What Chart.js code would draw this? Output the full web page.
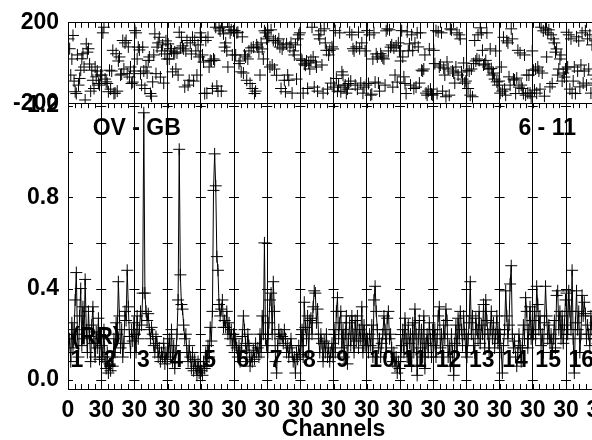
<!DOCTYPE html>
<html>
<head>
<meta charset="utf-8">
<script src="https://cdn.jsdelivr.net/npm/chart.js@4.4.0/dist/chart.umd.min.js"></script>
<style>
  html, body { margin: 0; padding: 0; overflow: hidden; background: #fff; }
  #wrap { width: 620px; height: 440px; }
</style>
</head>
<body>
<div id="wrap"><canvas id="rrChart" width="620" height="440"></canvas></div>
<script>
// 16 baseline groups of 30 channels each
const chanPerGroup = 30;
const groupLabels = ['1', '2', '3', '4', '5', '6', '7', '8', '9', '10', '11', '12', '13', '14', '15', '16'];

// amplitude ratio (RR), one row per group
const ratioRR = [
    0.12,0.18,0.08,0.25,0.14,0.22,0.35,0.47,0.20,0.10,0.28,0.40,0.15,0.32,0.18,0.44,0.22,0.12,0.30,0.19,0.08,0.24,0.32,0.16,0.10,0.21,0.14,0.27,0.09,0.18,
    0.15,0.10,0.22,0.08,0.05,0.12,0.03,0.07,0.04,0.10,0.06,0.18,0.12,0.25,0.20,0.43,0.28,0.14,0.22,0.10,0.16,0.30,0.26,0.48,0.32,0.19,0.12,0.22,0.17,0.25,
    0.20,0.12,0.28,0.18,0.22,0.30,0.24,0.38,1.17,0.38,0.30,0.26,0.29,0.22,0.18,0.23,0.20,0.15,0.12,0.19,0.16,0.10,0.14,0.08,0.12,0.10,0.16,0.07,0.12,0.09,
    0.12,0.18,0.10,0.22,0.08,0.15,0.05,0.12,0.20,0.35,1.01,0.46,0.33,0.31,0.24,0.18,0.20,0.12,0.08,0.15,0.10,0.05,0.12,0.04,0.09,0.06,0.02,0.08,0.03,0.06,
    0.04,0.02,0.08,0.05,0.12,0.06,0.15,0.10,0.23,0.17,0.30,0.83,0.99,0.85,0.54,0.48,0.33,0.28,0.31,0.35,0.23,0.26,0.23,0.30,0.20,0.25,0.18,0.22,0.15,0.20,
    0.12,0.18,0.14,0.10,0.15,0.08,0.13,0.19,0.28,0.22,0.16,0.12,0.20,0.15,0.06,0.10,0.08,0.13,0.09,0.16,0.12,0.14,0.10,0.20,0.12,0.28,0.20,0.60,0.18,0.15,
    0.12,0.25,0.35,0.38,0.20,0.43,0.30,0.08,0.03,0.15,0.22,0.18,0.20,0.19,0.16,0.22,0.18,0.12,0.15,0.10,0.14,0.18,0.12,0.08,0.10,0.03,0.12,0.09,0.15,0.11,
    0.15,0.22,0.10,0.34,0.23,0.18,0.28,0.12,0.26,0.27,0.20,0.32,0.39,0.38,0.25,0.31,0.18,0.12,0.20,0.16,0.08,0.17,0.12,0.20,0.10,0.14,0.08,0.12,0.16,0.10,
    0.22,0.12,0.30,0.36,0.18,0.25,0.30,0.14,0.22,0.10,0.20,0.28,0.07,0.18,0.25,0.15,0.28,0.20,0.12,0.26,0.17,0.28,0.14,0.22,0.18,0.32,0.12,0.24,0.15,0.20,
    0.18,0.12,0.20,0.15,0.24,0.10,0.35,0.41,0.30,0.22,0.14,0.18,0.10,0.16,0.20,0.28,0.22,0.12,0.27,0.30,0.18,0.20,0.14,0.08,0.12,0.06,0.10,0.03,0.08,0.05,
    0.08,0.15,0.22,0.12,0.27,0.18,0.10,0.24,0.16,0.20,0.06,0.25,0.12,0.31,0.20,0.02,0.18,0.26,0.14,0.22,0.10,0.28,0.05,0.16,0.20,0.12,0.25,0.18,0.10,0.22,
    0.15,0.22,0.10,0.18,0.28,0.32,0.14,0.20,0.12,0.24,0.18,0.31,0.26,0.10,0.15,0.06,0.20,0.12,0.02,0.16,0.24,0.12,0.27,0.18,0.30,0.22,0.15,0.28,0.20,0.12,
    0.10,0.18,0.25,0.43,0.20,0.28,0.15,0.12,0.27,0.22,0.18,0.30,0.16,0.24,0.20,0.33,0.14,0.35,0.26,0.20,0.12,0.22,0.30,0.18,0.25,0.14,0.20,0.28,0.16,0.22,
    0.20,0.12,0.03,0.15,0.22,0.39,0.28,0.18,0.24,0.42,0.50,0.20,0.14,0.17,0.10,0.06,0.12,0.20,0.15,0.08,0.14,0.24,0.18,0.36,0.30,0.14,0.22,0.32,0.18,0.26,
    0.20,0.30,0.18,0.41,0.33,0.22,0.28,0.15,0.20,0.12,0.25,0.41,0.28,0.18,0.24,0.16,0.20,0.12,0.18,0.26,0.14,0.37,0.39,0.22,0.30,0.18,0.28,0.16,0.24,0.35,
    0.38,0.20,0.39,0.30,0.22,0.48,0.18,0.03,0.25,0.39,0.22,0.30,0.12,0.20,0.37,0.28,0.34,0.29,0.18,0.24,0.20,0.15,0.28,0.22,0.30,0.18,0.25,0.20,0.16,0.22
];

// phase in degrees, one row per group
const phaseRR = [
    120,71,-60,20,137,-90,-143,-152,40,-110,-77,-36,21,46,-20,-184,95,54,71,-5,-140,-36,-86,-127,-20,-69,-40,-102,-110,-60,
    -60,150,178,-80,-94,-102,-143,-36,-130,-40,63,-152,-150,46,-140,10,30,-60,-55,112,-30,100,112,-53,80,-70,-20,-102,-95,-40,
    161,150,20,79,65,-53,-110,79,-40,-127,-20,-50,13,30,-152,-165,-94,40,145,-53,79,100,128,-70,60,90,-100,45,110,20,
    95,20,71,60,-44,46,55,-30,50,-60,153,75,128,85,70,-119,60,112,-110,-86,100,45,128,-90,112,60,-60,90,30,150,
    128,40,5,-152,112,-150,128,-20,13,10,-127,20,13,178,-115,-140,170,160,-140,178,145,79,100,60,-20,180,150,165,40,160,
    161,40,150,153,-3,10,-44,130,-50,40,30,-86,20,60,-102,75,-127,79,-152,-140,90,79,55,-60,100,70,20,160,150,120,
    161,130,-20,165,-10,112,-30,110,-61,100,120,79,-127,70,90,-86,-143,95,-60,-86,79,100,-150,60,40,90,-80,120,140,150,
    20,13,-150,-5,-11,10,-127,0,-30,13,178,30,-120,5,-20,-140,140,120,160,-10,-150,170,100,63,-130,40,63,-100,80,70,
    -120,161,-77,-140,-110,150,-143,-44,-60,-120,-110,-150,-130,-102,153,-90,140,71,60,-110,80,-130,153,71,-100,100,-150,-120,60,-110,
    161,-102,140,-160,-155,20,150,-95,45,30,-100,-140,46,35,25,20,-110,160,170,60,165,79,90,-120,75,-60,85,-95,100,60,
    10,161,30,-69,-102,-152,155,60,95,-110,140,63,-127,100,-120,150,80,-100,150,-36,-40,-30,40,-150,-160,-140,70,-130,-155,-160,
    63,-3,161,-152,155,-20,-10,150,-140,-25,-60,-168,5,-30,-160,170,165,-40,-50,-100,-20,150,-60,140,120,-45,-80,0,-100,-90,
    -36,-127,-40,-160,-30,-168,-3,112,10,20,140,13,175,150,63,-10,-5,13,150,-20,-30,70,-28,-60,-50,-80,60,-94,-110,-90,
    -150,-20,-140,128,-130,-160,110,100,-69,-110,170,120,-80,-85,-152,-75,63,-120,50,-110,-127,-152,40,-160,-60,-150,-60,-150,-168,60,
    -36,-135,-30,-150,-20,-40,-130,178,-50,160,-165,170,30,150,165,-119,140,-102,120,100,54,70,-60,-30,20,40,-90,-50,-70,-30,
    153,-20,140,-130,120,-150,-90,-20,-152,130,-40,110,-119,-10,150,-100,-40,160,-110,120,-30,140,-150,90,-60,-100,110,-80,130,-120
];

// tick values
const ratioLabelTicks = [0, 0.4, 0.8, 1.2];
const ratioCrossTicks = [0, 0.2, 0.4, 0.6, 0.8, 1.0, 1.2];
const phaseTicks = [-200, 0, 200];
const minorStep = 6;

const FAMILY = '"Liberation Sans", Arial, sans-serif';
const FONT = { family: FAMILY, size: 23, weight: 'bold' };

const ratioPoints = ratioRR.map((v, i) => ({ x: i + 0.5, y: v }));
const phasePoints = phaseRR.map((v, i) => ({ x: i + 0.5, y: v }));

// little tick marks inside the frame, like the original plot
const frameTicks = {
    id: 'frameTicks',
    afterDatasetsDraw(chart) {
        const { ctx, chartArea: a, scales: { x, y, y2 } } = chart;
        ctx.save();
        ctx.beginPath();
        ctx.rect(a.left, a.top, a.right - a.left, a.bottom - a.top);
        ctx.clip();
        ctx.strokeStyle = '#000';
        ctx.lineWidth = 1;
        ctx.beginPath();
        const mid = y2.bottom;
        for (let c = 0; c <= x.max; c += minorStep) {
            const px = Math.round(x.getPixelForValue(c)) + 0.5;
            ctx.moveTo(px, a.bottom); ctx.lineTo(px, a.bottom - 5);
            ctx.moveTo(px, mid); ctx.lineTo(px, mid + 5);
            ctx.moveTo(px, a.top); ctx.lineTo(px, a.top + 5);
        }
        for (let c = 0; c <= x.max; c += chanPerGroup) {
            const px = x.getPixelForValue(c);
            ratioCrossTicks.forEach(v => {
                const py = Math.round(y.getPixelForValue(v)) + 0.5;
                ctx.moveTo(px - 5, py); ctx.lineTo(px + 5, py);
            });
        }
        ctx.stroke();
        ctx.restore();

        // annotations
        ctx.save();
        ctx.fillStyle = '#000';
        ctx.font = 'bold 23px ' + FAMILY;
        ctx.textBaseline = 'middle';
        ctx.textAlign = 'left';
        groupLabels.forEach((t, g) => {
            ctx.fillText(t, x.getPixelForValue(g * chanPerGroup + 2.3), y.getPixelForValue(0.085));
        });
        ctx.fillText('OV - GB', x.getPixelForValue(22.3), y.getPixelForValue(1.1));
        ctx.fillText('(RR)', x.getPixelForValue(3.6), y.getPixelForValue(0.187));
        ctx.textAlign = 'right';
        ctx.fillText('6 - 11', x.getPixelForValue(459), y.getPixelForValue(1.1));
        ctx.restore();
    }
};

new Chart(document.getElementById('rrChart'), {
    type: 'line',
    data: {
        datasets: [{
            type: 'scatter',
            label: 'phase',
            data: phasePoints,
            yAxisID: 'y2',
            showLine: false,
            pointStyle: 'cross',
            pointRadius: 6,
            borderWidth: 1,
            borderColor: '#000'
        }, {
            label: 'ratio',
            data: ratioPoints,
            yAxisID: 'y',
            pointStyle: 'cross',
            pointRadius: 6,
            borderWidth: 1,
            borderColor: '#000',
            tension: 0
        }]
    },
    options: {
        responsive: false,
        animation: false,
        layout: { padding: { top: 20, right: 20, left: 0, bottom: 0 } },
        plugins: { legend: { display: false }, tooltip: { enabled: false } },
        scales: {
            x: {
                type: 'linear',
                min: 0,
                max: groupLabels.length * chanPerGroup,
                afterFit: s => { s.height = 51; },
                grid: { color: '#000', drawTicks: false },
                border: { color: '#000' },
                ticks: {
                    stepSize: chanPerGroup,
                    autoSkip: false,
                    maxRotation: 0,
                    padding: 8,
                    color: '#000',
                    font: FONT,
                    callback: v => (v === 0 ? '0' : '30')
                },
                title: {
                    display: true,
                    text: 'Channels',
                    color: '#000',
                    font: { family: FAMILY, size: 23, weight: 'bold', lineHeight: 0.9 },
                    padding: 0
                }
            },
            y: {
                stack: 'panels',
                stackWeight: 288,
                min: -0.04,
                max: 1.212,
                afterFit: s => { s.width = 68; },
                afterBuildTicks: s => { s.ticks = ratioLabelTicks.map(v => ({ value: v })); },
                grid: { display: false, drawTicks: false },
                border: { color: '#000' },
                ticks: { padding: 9, color: '#000', font: FONT, callback: v => v.toFixed(1) }
            },
            y2: {
                stack: 'panels',
                stackWeight: 81,
                min: -200,
                max: 200,
                afterFit: s => { s.width = 68; },
                afterBuildTicks: s => { s.ticks = phaseTicks.map(v => ({ value: v })); },
                grid: { color: '#000', drawTicks: false },
                border: { color: '#000' },
                ticks: { padding: 9, color: '#000', font: FONT, callback: v => (v === 0 ? '' : v) }
            }
        }
    },
    plugins: [frameTicks]
});
</script>
</body>
</html>
